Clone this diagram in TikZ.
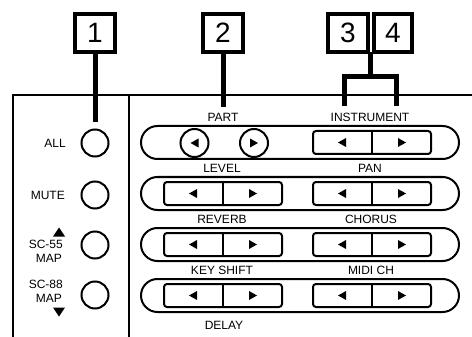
\documentclass[tikz,border=0pt]{standalone}
\usepackage{fontspec}
\setmainfont{Liberation Sans}
\begin{document}
\begin{tikzpicture}[x=1pt,y=-1pt,
  lbl/.style={font=\fontsize{12}{13}\selectfont, inner sep=0pt},
  numbox/.style={draw, line width=4pt, minimum width=40pt, minimum height=38pt, inner sep=0pt, font=\fontsize{28}{30}\selectfont},
  conn/.style={line width=5pt},
  panel/.style={line width=2pt},
  stad/.style={draw, line width=2pt, minimum width=318pt, minimum height=33pt, rounded corners=16.5pt, inner sep=0pt},
  pair/.style={draw, line width=2pt, minimum width=118pt, minimum height=23pt, rounded corners=3pt, inner sep=0pt},
  rbtn/.style={draw, circle, line width=2pt, minimum size=27pt, inner sep=0pt},
  tl/.pic={\fill (-4,0) -- (4,-4.5) -- (4,4.5) -- cycle;},
  tr/.pic={\fill (4,0) -- (-4,-4.5) -- (-4,4.5) -- cycle;},
  tup/.pic={\fill (0,-4.5) -- (6,4.5) -- (-6,4.5) -- cycle;},
  tdn/.pic={\fill (0,4.5) -- (6,-4.5) -- (-6,-4.5) -- cycle;}
]
\useasboundingbox (0,0) rectangle (472,337);

% panel frame
\coordinate (pTL) at (13,95);
\coordinate (pTR) at (472,95);
\coordinate (pBL) at (13,337);
\coordinate (dT) at (129,95);
\coordinate (dB) at (129,337);
\draw[panel] (pBL) -- (pTL) -- (pTR);
\draw[panel] (dT) -- (dB);

% number boxes
\node[numbox] (b1) at (95,33) {1};
\node[numbox] (b2) at (223,33) {2};
\node[numbox] (b3) at (348,33) {3};
\node[numbox, minimum width=38pt] (b4) at (393,33) {4};

% connectors
\coordinate (c1) at (95,122);
\coordinate (c2) at (223,107);
\coordinate (c3top) at (370,52.5);
\coordinate (c3mid) at (370,77);
\coordinate (bl) at (344,104);
\coordinate (br) at (396,104);
\draw[conn] (b1.south) -- (c1);
\draw[conn] (b2.south) -- (c2);
\draw[conn] (c3top) -- (c3mid);
\draw[conn, line cap=rect, line join=miter] (bl) |- (c3mid) -| (br);

% left column buttons
\node[rbtn] (all) at (95,143) {};
\node[rbtn] (mute) at (95,195) {};
\node[rbtn] (m55) at (95,245) {};
\node[rbtn] (m88) at (95,295) {};
\node[lbl, anchor=east] (lall) at (66,143) {ALL};
\node[lbl, anchor=east] (lmute) at (65,195) {MUTE};
\pic at (59,232) {tup};
\node[lbl, anchor=east] (l55a) at (63,244) {SC-55};
\node[lbl, anchor=east] (l55b) at (62,258.5) {MAP};
\node[lbl, anchor=east] (l88a) at (63,284) {SC-88};
\node[lbl, anchor=east] (l88b) at (62,298) {MAP};
\pic at (59,312) {tdn};

% rows
\node[stad] (r1) at (300,142.5) {};
\node[stad] (r2) at (300,193.5) {};
\node[stad] (r3) at (300,244.5) {};
\node[stad] (r4) at (300,295.5) {};

% row 1 part buttons
\node[rbtn, minimum size=28pt] (pl) at (194.5,143) {};
\node[rbtn, minimum size=28pt] (pr) at (254,143) {};
\pic at (pl) {tl};
\pic at (pr) {tr};

% pairs
\foreach \n/\x/\y in {ins/372/142.5, lev/223/193.5, pan/372/193.5, rev/223/244.5, cho/372/244.5, key/223/295.5, mid/372/295.5}{
  \node[pair] (\n) at (\x,\y) {};
  \draw[line width=2pt] (\n.north) -- (\n.south);
  \pic at ([xshift=-30pt]\n.center) {tl};
  \pic at ([xshift=30pt]\n.center) {tr};
}

% labels
\node[lbl] (tpart) at (223,117) {PART};
\node[lbl] (tins) at (370,117) {INSTRUMENT};
\node[lbl] (tlev) at (222,168) {LEVEL};
\node[lbl] (tpan) at (370,168) {PAN};
\node[lbl] (trev) at (222,219) {REVERB};
\node[lbl] (tcho) at (371,219) {CHORUS};
\node[lbl] (tkey) at (222,270.5) {KEY SHIFT};
\node[lbl] (tmid) at (371,270.5) {MIDI CH};
\node[lbl] (tdel) at (224,325) {DELAY};
\end{tikzpicture}
\end{document}
